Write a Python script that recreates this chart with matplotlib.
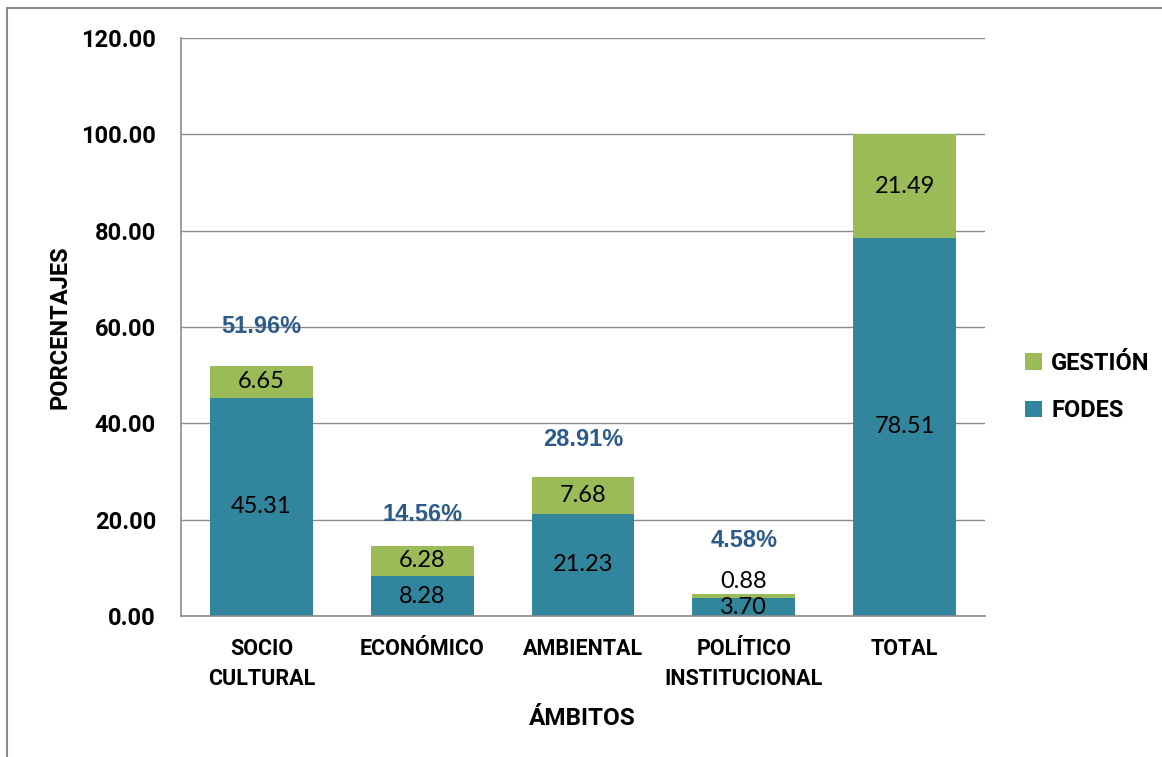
import numpy as np
import matplotlib.pyplot as plt
from matplotlib.patches import Rectangle

categories = ["SOCIO\nCULTURAL", "ECONÓMICO", "AMBIENTAL", "POLÍTICO\nINSTITUCIONAL", "TOTAL"]
fodes = [45.31, 8.28, 21.23, 3.70, 78.51]
gestion = [6.65, 6.28, 7.68, 0.88, 21.49]
totals = [51.96, 14.56, 28.91, 4.58, None]

teal = "#31859C"
green = "#9BBB59"
grid = "#8c8c8c"
bold_font = "Roboto"

fig = plt.figure(figsize=(11.62, 7.57), dpi=100)
fig.patches.append(Rectangle((7 / 1162, -0.05), 1.2, (757 - 8) / 757 + 0.05,
                             transform=fig.transFigure, fill=False,
                             edgecolor="#8c8c8c", linewidth=1.5))
ax = fig.add_axes([181 / 1162, 141 / 757, 804 / 1162, 578 / 757])

x = np.arange(len(categories))
w = 0.64
ax.bar(x, fodes, w, color=teal, label="FODES", zorder=3)
ax.bar(x, gestion, w, bottom=fodes, color=green, label="GESTIÓN", zorder=3)

ax.set_xlim(-0.5, len(categories) - 0.5)
ax.set_ylim(0, 120)
ax.set_yticks(np.arange(0, 121, 20))
ax.set_yticklabels([f"{v:.2f}" for v in np.arange(0, 121, 20)],
                   fontsize=17, fontweight="bold", family=bold_font)
ax.set_xticks(x)
ax.set_xticklabels(categories, fontsize=15.5, fontweight="bold", family=bold_font,
                   linespacing=1.45)
ax.tick_params(length=0)
ax.tick_params(axis="y", pad=18)
ax.tick_params(axis="x", pad=16)
ax.grid(axis="y", color=grid, linewidth=1, zorder=0)
for s in ["top", "right"]:
    ax.spines[s].set_visible(False)
for s in ["left", "bottom"]:
    ax.spines[s].set_color(grid)
    ax.spines[s].set_linewidth(1.2)
    ax.spines[s].set_zorder(4)

# value labels inside segments
for i in range(len(x)):
    ax.text(x[i], fodes[i] / 2, f"{fodes[i]:.2f}", ha="center", va="center",
            fontsize=17, family="Lato", zorder=5)
    gy = fodes[i] + gestion[i] / 2
    if gestion[i] < 2:
        gy = fodes[i] + gestion[i] + 2.6
    ax.text(x[i], gy, f"{gestion[i]:.2f}", ha="center", va="center",
            fontsize=17, family="Lato", zorder=5)

# percentage labels above bars
offsets = [39, 31, 37, 53]
for i, t in enumerate(totals):
    if t is None:
        continue
    ax.annotate(f"{t:.2f}%", (x[i], fodes[i] + gestion[i]),
                xytext=(0, offsets[i]), textcoords="offset pixels",
                ha="center", va="center", fontsize=17, fontweight="bold",
                family="Liberation Sans", color="#2E5C8A")

ax.set_ylabel("PORCENTAJES", fontsize=17, fontweight="bold", family=bold_font)
ax.yaxis.set_label_coords(-109 / 804, (616 - 327) / 578)
ax.set_xlabel("ÁMBITOS", fontsize=17.5, fontweight="bold", family=bold_font)
ax.xaxis.set_label_coords((582 - 181) / 804, -(707 - 616) / 578)

h, l = ax.get_legend_handles_labels()
leg = fig.legend(h[::-1], l[::-1], loc="center left",
                 bbox_to_anchor=(1004 / 1162, (757 - 387) / 757),
                 frameon=False, handlelength=0.7, handleheight=0.7,
                 handletextpad=0.4, labelspacing=1.05,
                 prop={"family": bold_font, "weight": "bold", "size": 17})

fig.savefig("out.png", dpi=100)
